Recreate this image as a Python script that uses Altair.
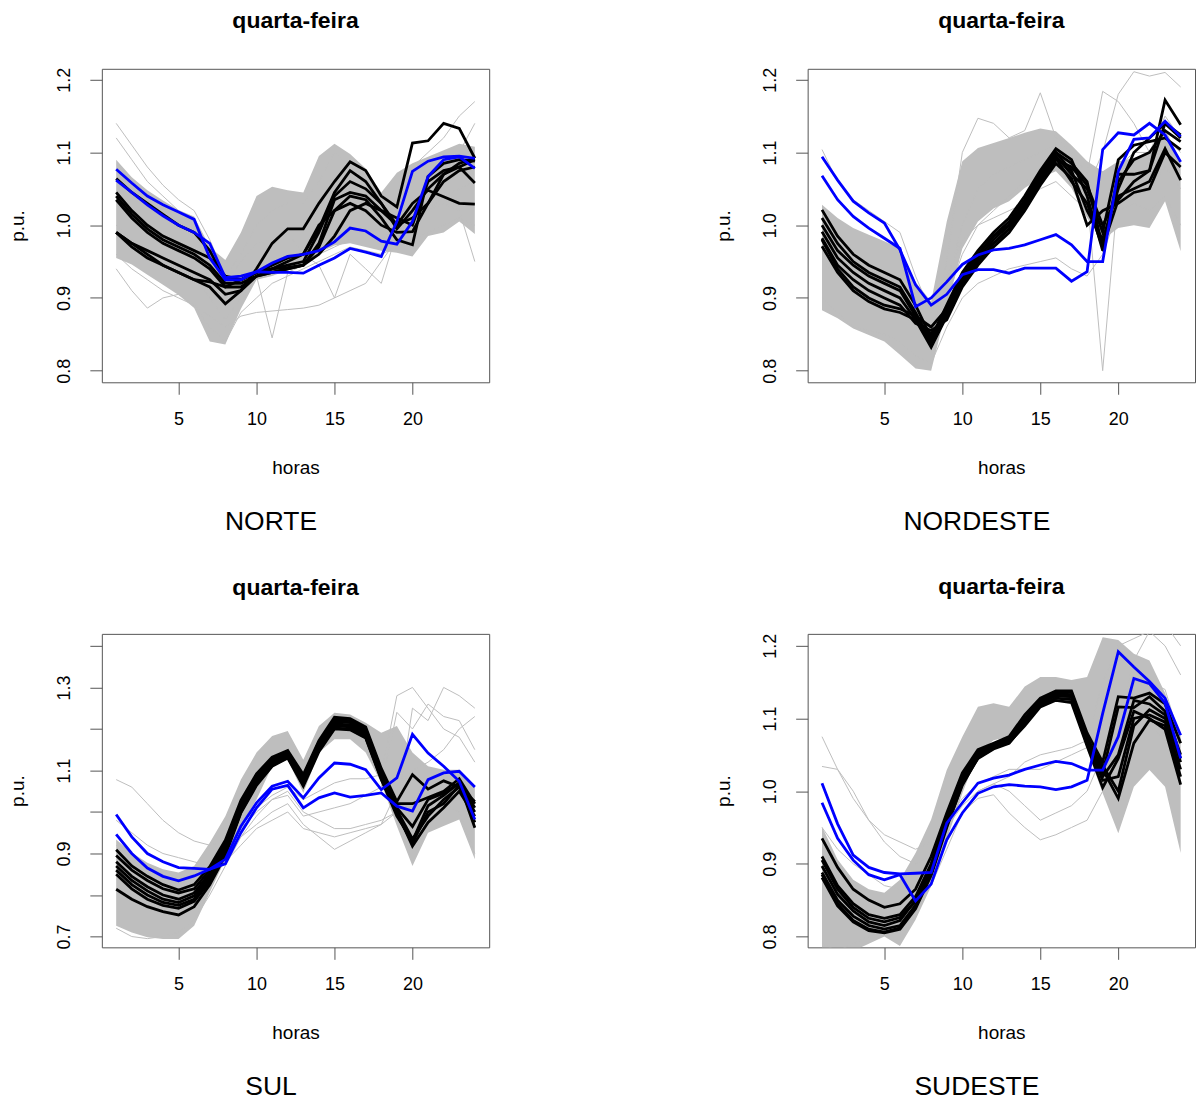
import altair as alt
import pandas as pd

FONT = "Liberation Sans"
HOURS = list(range(1, 25))
TITLE = "quarta-feira"
X_TITLE = "horas"
Y_TITLE = "p.u."
X_TICKS = [5, 10, 15, 20]

# ---------------- NORTE ----------------
norte_band_lo = [0.955, 0.946, 0.932, 0.918, 0.904, 0.886, 0.840, 0.836, 0.885, 0.925, 0.930, 0.938,
                 0.945, 0.962, 0.972, 0.975, 0.970, 0.965, 0.962, 0.957, 0.985, 0.990, 1.005, 0.988]
norte_band_hi = [1.090, 1.066, 1.048, 1.034, 1.021, 1.012, 0.970, 0.952, 0.990, 1.040, 1.053, 1.048,
                 1.045, 1.095, 1.112, 1.098, 1.078, 1.045, 1.072, 1.085, 1.094, 1.103, 1.112, 1.108]
norte_gray = [
    [1.000, 0.980, 0.965, 0.950, 0.940, 0.930, 0.900, 0.870, 0.900, 0.930, 0.845, 0.935, 0.945, 0.960, 0.970, 0.980, 0.980, 0.980, 0.990, 1.000, 1.020, 1.040, 1.050, 1.060],
    [0.960, 0.940, 0.925, 0.910, 0.900, 0.890, 0.875, 0.860, 0.875, 0.880, 0.882, 0.884, 0.886, 0.890, 0.900, 0.910, 0.920, 0.950, 0.980, 1.000, 1.020, 1.030, 1.020, 0.950],
    [1.120, 1.090, 1.060, 1.040, 1.020, 1.000, 0.960, 0.920, 0.950, 0.975, 0.980, 0.990, 0.960, 0.945, 0.900, 0.960, 0.940, 0.920, 0.990, 1.020, 1.050, 1.070, 1.100, 1.140],
    [1.140, 1.110, 1.080, 1.055, 1.035, 1.020, 0.980, 0.930, 0.960, 1.000, 1.020, 1.030, 1.030, 1.060, 1.100, 1.080, 1.060, 1.030, 1.020, 1.080, 1.100, 1.120, 1.150, 1.170],
    [0.940, 0.910, 0.886, 0.900, 0.905, 0.890, 0.860, 0.840, 0.880, 0.900, 0.920, 0.930, 0.940, 0.950, 0.960, 0.970, 0.965, 0.960, 0.970, 0.980, 0.990, 1.000, 1.010, 1.000],
]
norte_black = [
    [0.990, 0.975, 0.965, 0.955, 0.945, 0.935, 0.925, 0.905, 0.910, 0.940, 0.975, 0.995, 0.995, 1.030, 1.060, 1.087, 1.075, 1.040, 1.025, 1.113, 1.116, 1.140, 1.133, 1.092],
    [1.045, 1.020, 1.000, 0.985, 0.975, 0.965, 0.955, 0.930, 0.925, 0.935, 0.940, 0.945, 0.950, 0.990, 1.040, 1.060, 1.050, 1.030, 1.000, 1.030, 1.048, 1.039, 1.030, 1.029],
    [1.040, 1.015, 0.995, 0.980, 0.970, 0.960, 0.945, 0.920, 0.920, 0.930, 0.935, 0.940, 0.945, 0.975, 1.035, 1.045, 1.040, 1.020, 1.010, 1.000, 1.060, 1.075, 1.080, 1.058],
    [1.035, 1.010, 0.990, 0.975, 0.965, 0.955, 0.940, 0.915, 0.915, 0.930, 0.940, 0.950, 0.960, 1.000, 1.020, 1.040, 1.035, 1.010, 0.980, 0.973, 1.067, 1.085, 1.090, 1.088],
    [0.990, 0.975, 0.960, 0.945, 0.935, 0.925, 0.915, 0.892, 0.910, 0.930, 0.935, 0.940, 0.945, 0.970, 1.020, 1.030, 1.020, 1.000, 0.990, 0.991, 1.030, 1.060, 1.075, 1.080],
    [0.990, 0.970, 0.955, 0.945, 0.935, 0.925, 0.922, 0.915, 0.925, 0.935, 0.940, 0.942, 0.945, 0.960, 0.985, 1.020, 1.030, 1.020, 1.000, 1.010, 1.030, 1.070, 1.085, 1.092],
    [1.064, 1.045, 1.030, 1.015, 1.000, 0.990, 0.965, 0.925, 0.925, 0.935, 0.945, 0.955, 0.960, 0.995, 1.045, 1.075, 1.060, 1.030, 0.995, 1.020, 1.050, 1.070, 1.080, 1.090],
]
norte_blue = [
    [1.077, 1.058, 1.040, 1.028, 1.018, 1.008, 0.955, 0.925, 0.925, 0.936, 0.948, 0.957, 0.960, 0.965, 0.977, 0.996, 0.992, 0.978, 0.974, 1.005, 1.067, 1.090, 1.094, 1.078],
    [1.062, 1.045, 1.028, 1.013, 1.000, 0.990, 0.975, 0.928, 0.930, 0.936, 0.935, 0.935, 0.934, 0.945, 0.955, 0.968, 0.963, 0.957, 1.005, 1.074, 1.088, 1.094, 1.095, 1.092],
]

# ---------------- NORDESTE ----------------
nordeste_band_lo = [0.883, 0.872, 0.858, 0.849, 0.840, 0.822, 0.803, 0.800, 0.886, 0.968, 1.005, 1.023,
                    1.033, 1.051, 1.065, 1.074, 1.051, 1.010, 0.980, 0.996, 1.000, 0.996, 1.033, 0.964]
nordeste_band_hi = [1.028, 1.010, 0.996, 0.987, 0.978, 0.968, 0.922, 0.895, 1.005, 1.088, 1.106, 1.113,
                    1.120, 1.127, 1.133, 1.129, 1.110, 1.088, 1.074, 1.088, 1.092, 1.101, 1.133, 1.088]
nordeste_gray = [
    [0.950, 0.930, 0.910, 0.900, 0.890, 0.880, 0.860, 0.840, 0.900, 0.960, 1.000, 1.020, 1.040, 1.060, 1.080, 1.090, 1.070, 1.040, 0.800, 1.050, 1.060, 1.050, 1.080, 1.050],
    [1.000, 0.970, 0.950, 0.930, 0.920, 0.910, 0.880, 0.850, 0.920, 1.000, 1.050, 1.070, 1.080, 1.090, 1.100, 1.110, 1.090, 1.050, 1.100, 1.180, 1.211, 1.205, 1.210, 1.190],
    [0.980, 0.950, 0.930, 0.915, 0.905, 0.890, 0.860, 0.840, 0.950, 1.100, 1.147, 1.140, 1.120, 1.130, 1.182, 1.120, 1.100, 1.070, 1.184, 1.170, 1.140, 1.100, 1.120, 1.100],
    [0.900, 0.880, 0.860, 0.855, 0.850, 0.840, 0.820, 0.810, 0.860, 0.900, 0.920, 0.930, 0.940, 0.945, 0.950, 0.955, 0.940, 0.930, 0.960, 1.020, 1.030, 1.020, 1.040, 1.000],
    [1.104, 1.060, 1.035, 1.020, 1.005, 0.990, 0.930, 0.880, 0.930, 0.980, 1.000, 1.010, 1.020, 1.030, 1.050, 1.060, 1.040, 1.020, 1.000, 1.080, 1.100, 1.100, 1.150, 1.120],
]
nordeste_black = [
    [1.021, 0.985, 0.960, 0.945, 0.935, 0.925, 0.890, 0.845, 0.890, 0.935, 0.965, 0.990, 1.010, 1.040, 1.075, 1.105, 1.090, 1.040, 0.965, 1.070, 1.070, 1.075, 1.172, 1.138],
    [1.010, 0.975, 0.950, 0.935, 0.925, 0.915, 0.880, 0.840, 0.885, 0.930, 0.960, 0.985, 1.005, 1.035, 1.070, 1.100, 1.075, 1.020, 0.980, 1.050, 1.100, 1.120, 1.140, 1.124],
    [1.000, 0.965, 0.945, 0.930, 0.920, 0.910, 0.875, 0.835, 0.880, 0.925, 0.955, 0.980, 1.000, 1.030, 1.065, 1.095, 1.070, 1.050, 0.990, 1.090, 1.110, 1.115, 1.120, 1.104],
    [0.991, 0.955, 0.935, 0.920, 0.910, 0.900, 0.870, 0.832, 0.875, 0.920, 0.950, 0.975, 0.995, 1.025, 1.060, 1.090, 1.080, 1.055, 1.000, 1.040, 1.050, 1.060, 1.105, 1.062],
    [0.982, 0.945, 0.925, 0.910, 0.900, 0.890, 0.865, 0.855, 0.870, 0.915, 0.945, 0.970, 0.990, 1.020, 1.055, 1.085, 1.065, 1.000, 1.020, 1.030, 1.045, 1.050, 1.100, 1.080],
    [0.971, 0.935, 0.910, 0.895, 0.885, 0.880, 0.870, 0.850, 0.880, 0.925, 0.950, 0.975, 0.995, 1.025, 1.060, 1.092, 1.060, 1.030, 0.970, 1.060, 1.090, 1.100, 1.130, 1.115],
    [0.980, 0.940, 0.915, 0.900, 0.890, 0.885, 0.875, 0.860, 0.885, 0.930, 0.960, 0.985, 1.000, 1.030, 1.070, 1.100, 1.085, 1.060, 0.970, 1.035, 1.060, 1.075, 1.140, 1.120],
]
nordeste_blue = [
    [1.094, 1.062, 1.033, 1.017, 1.003, 0.966, 0.918, 0.890, 0.905, 0.932, 0.939, 0.939, 0.934, 0.941, 0.941, 0.941, 0.923, 0.936, 1.104, 1.127, 1.124, 1.140, 1.124, 1.087],
    [1.068, 1.035, 1.012, 0.996, 0.982, 0.968, 0.888, 0.900, 0.922, 0.946, 0.959, 0.966, 0.968, 0.973, 0.980, 0.987, 0.973, 0.950, 0.950, 1.074, 1.118, 1.120, 1.143, 1.122],
]

# ---------------- SUL ----------------
sul_band_lo = [0.726, 0.710, 0.698, 0.694, 0.694, 0.726, 0.806, 0.886, 0.966, 1.030, 1.110, 1.126,
               1.046, 1.143, 1.175, 1.175, 1.143, 1.070, 0.966, 0.870, 0.950, 0.966, 0.982, 0.886]
sul_band_hi = [0.934, 0.902, 0.878, 0.862, 0.854, 0.870, 0.926, 0.990, 1.078, 1.143, 1.183, 1.195,
               1.126, 1.207, 1.239, 1.235, 1.215, 1.191, 1.207, 1.143, 1.110, 1.102, 1.102, 1.062]
sul_gray = [
    [1.078, 1.060, 1.020, 0.980, 0.950, 0.930, 0.920, 0.930, 0.970, 1.010, 1.040, 1.060, 1.030, 1.050, 1.070, 1.080, 1.080, 1.090, 1.280, 1.300, 1.250, 1.200, 1.180, 1.120],
    [0.980, 0.950, 0.920, 0.900, 0.890, 0.880, 0.870, 0.880, 0.920, 0.960, 0.980, 1.000, 0.960, 0.950, 0.940, 0.950, 0.960, 0.970, 1.000, 1.250, 1.220, 1.300, 1.280, 1.250],
    [0.920, 0.880, 0.850, 0.830, 0.820, 0.830, 0.860, 0.900, 0.960, 1.000, 1.030, 1.040, 0.990, 1.000, 1.010, 1.020, 1.040, 1.060, 1.240, 1.200, 1.260, 1.230, 1.220, 1.150],
    [0.720, 0.700, 0.695, 0.700, 0.710, 0.740, 0.800, 0.870, 0.940, 0.990, 1.030, 1.050, 1.000, 0.980, 0.960, 0.960, 0.970, 0.980, 1.000, 1.020, 1.010, 1.020, 1.000, 0.900],
    [0.900, 0.870, 0.850, 0.840, 0.840, 0.850, 0.870, 0.900, 0.940, 0.970, 1.000, 1.020, 0.970, 0.940, 0.910, 0.930, 0.950, 0.970, 1.050, 1.100, 1.120, 1.150, 1.200, 1.230],
]
sul_black = [
    [0.909, 0.870, 0.845, 0.825, 0.812, 0.825, 0.868, 0.932, 1.028, 1.092, 1.132, 1.148, 1.090, 1.172, 1.228, 1.225, 1.205, 1.105, 1.025, 1.090, 1.055, 1.075, 1.060, 1.025],
    [0.895, 0.860, 0.835, 0.815, 0.805, 0.815, 0.860, 0.925, 1.020, 1.085, 1.128, 1.145, 1.085, 1.168, 1.222, 1.220, 1.200, 1.100, 1.020, 1.020, 1.035, 1.050, 1.080, 1.020],
    [0.880, 0.845, 0.820, 0.800, 0.790, 0.805, 0.852, 0.918, 1.015, 1.080, 1.124, 1.142, 1.080, 1.165, 1.218, 1.215, 1.195, 1.095, 1.010, 0.965, 1.030, 1.045, 1.070, 1.010],
    [0.870, 0.835, 0.810, 0.790, 0.782, 0.798, 0.845, 0.912, 1.010, 1.076, 1.120, 1.140, 1.075, 1.160, 1.212, 1.210, 1.190, 1.090, 1.005, 0.935, 0.990, 1.030, 1.060, 1.000],
    [0.860, 0.825, 0.800, 0.782, 0.775, 0.790, 0.838, 0.905, 1.005, 1.072, 1.116, 1.136, 1.070, 1.155, 1.208, 1.205, 1.185, 1.085, 1.000, 0.918, 0.975, 1.010, 1.050, 0.990],
    [0.850, 0.815, 0.790, 0.775, 0.768, 0.785, 0.832, 0.900, 1.000, 1.068, 1.112, 1.132, 1.066, 1.150, 1.202, 1.200, 1.180, 1.080, 0.995, 0.925, 1.000, 1.020, 1.065, 0.975],
    [0.814, 0.790, 0.772, 0.760, 0.752, 0.772, 0.825, 0.895, 0.998, 1.064, 1.110, 1.130, 1.062, 1.145, 1.200, 1.198, 1.178, 1.078, 0.990, 0.930, 1.015, 1.040, 1.070, 0.962],
]
sul_blue = [
    [0.994, 0.940, 0.900, 0.880, 0.866, 0.864, 0.862, 0.886, 0.966, 1.022, 1.062, 1.074, 1.034, 1.082, 1.118, 1.115, 1.102, 1.054, 1.082, 1.187, 1.142, 1.110, 1.074, 0.982],
    [0.946, 0.900, 0.865, 0.845, 0.834, 0.846, 0.862, 0.875, 0.950, 1.010, 1.055, 1.064, 1.010, 1.034, 1.046, 1.036, 1.040, 1.046, 1.014, 1.002, 1.078, 1.094, 1.098, 1.060],
]

# ---------------- SUDESTE ----------------
sudeste_band_lo = [0.775, 0.775, 0.780, 0.790, 0.800, 0.787, 0.823, 0.869, 0.933, 0.997, 1.052, 1.070,
                   1.075, 1.089, 1.116, 1.125, 1.121, 1.057, 0.997, 0.942, 1.006, 1.029, 1.006, 0.915]
sudeste_band_hi = [0.951, 0.906, 0.878, 0.865, 0.860, 0.878, 0.915, 0.961, 1.029, 1.075, 1.116, 1.121,
                   1.116, 1.144, 1.157, 1.157, 1.153, 1.157, 1.212, 1.208, 1.189, 1.180, 1.135, 1.075]
sudeste_gray = [
    [1.075, 1.030, 0.990, 0.960, 0.940, 0.930, 0.920, 0.930, 0.960, 0.990, 1.010, 1.020, 1.030, 1.030, 1.030, 1.040, 1.050, 1.060, 1.100, 1.200, 1.210, 1.220, 1.230, 1.200],
    [1.034, 1.030, 1.000, 0.960, 0.930, 0.910, 0.900, 0.910, 0.950, 0.980, 1.000, 1.010, 1.000, 0.980, 0.960, 0.970, 0.980, 1.000, 1.050, 1.100, 1.180, 1.220, 1.200, 1.160],
    [0.950, 0.920, 0.900, 0.885, 0.870, 0.865, 0.870, 0.890, 0.930, 0.970, 0.990, 0.995, 0.970, 0.950, 0.933, 0.940, 0.950, 0.960, 1.000, 1.060, 1.080, 1.090, 1.070, 1.020],
    [0.790, 0.780, 0.790, 0.800, 0.810, 0.820, 0.840, 0.870, 0.920, 0.970, 1.000, 1.010, 1.020, 1.040, 1.050, 1.055, 1.060, 1.070, 1.150, 1.200, 1.170, 1.150, 1.140, 1.070],
]
sudeste_black = [
    [0.935, 0.895, 0.865, 0.850, 0.840, 0.845, 0.865, 0.910, 0.970, 1.025, 1.057, 1.066, 1.075, 1.105, 1.128, 1.138, 1.138, 1.080, 1.040, 1.130, 1.128, 1.135, 1.120, 1.066],
    [0.910, 0.870, 0.845, 0.830, 0.825, 0.830, 0.855, 0.900, 0.965, 1.020, 1.055, 1.064, 1.072, 1.100, 1.125, 1.136, 1.136, 1.075, 1.025, 1.116, 1.115, 1.130, 1.110, 1.050],
    [0.897, 0.858, 0.835, 0.820, 0.815, 0.822, 0.850, 0.895, 0.960, 1.015, 1.050, 1.062, 1.070, 1.098, 1.122, 1.134, 1.133, 1.070, 1.020, 1.050, 1.125, 1.120, 1.105, 1.040],
    [0.888, 0.850, 0.828, 0.815, 0.810, 0.815, 0.843, 0.890, 0.955, 1.012, 1.048, 1.060, 1.068, 1.095, 1.120, 1.132, 1.130, 1.068, 1.015, 1.020, 1.100, 1.105, 1.095, 1.030],
    [0.881, 0.842, 0.820, 0.808, 0.805, 0.810, 0.838, 0.884, 0.950, 1.010, 1.045, 1.058, 1.066, 1.092, 1.118, 1.128, 1.126, 1.065, 1.030, 0.990, 1.066, 1.098, 1.090, 1.020],
    [0.885, 0.845, 0.822, 0.810, 0.806, 0.812, 0.840, 0.887, 0.952, 1.008, 1.046, 1.059, 1.067, 1.090, 1.116, 1.125, 1.122, 1.062, 1.005, 1.045, 1.110, 1.100, 1.085, 1.009],
    [0.905, 0.865, 0.840, 0.825, 0.820, 0.826, 0.848, 0.893, 0.958, 1.014, 1.052, 1.063, 1.071, 1.097, 1.123, 1.131, 1.130, 1.072, 1.035, 1.000, 1.090, 1.112, 1.100, 1.045],
]
sudeste_blue = [
    [0.984, 0.935, 0.905, 0.885, 0.878, 0.885, 0.849, 0.872, 0.933, 0.970, 0.997, 1.006, 1.009, 1.007, 1.006, 1.002, 1.006, 1.015, 1.107, 1.192, 1.171, 1.151, 1.128, 1.077],
    [1.011, 0.955, 0.912, 0.895, 0.888, 0.886, 0.887, 0.888, 0.956, 0.984, 1.011, 1.018, 1.022, 1.030, 1.036, 1.041, 1.038, 1.029, 1.029, 1.075, 1.155, 1.148, 1.121, 1.045],
]

Y_DOMAINS = {
    "NORTE": [0.784, 1.215],
    "NORDESTE": [0.784, 1.215],
    "SUL": [0.674, 1.429],
    "SUDESTE": [0.785, 1.2165],
}
Y_TICKS = {
    "NORTE": [0.8, 0.9, 1.0, 1.1, 1.2],
    "NORDESTE": [0.8, 0.9, 1.0, 1.1, 1.2],
    "SUL": [0.7, 0.8, 0.9, 1.0, 1.1, 1.2, 1.3, 1.4],
    "SUDESTE": [0.8, 0.9, 1.0, 1.1, 1.2],
}
Y_SHOWN = {
    "NORTE": ["0.8", "0.9", "1.0", "1.1", "1.2"],
    "NORDESTE": ["0.8", "0.9", "1.0", "1.1", "1.2"],
    "SUL": ["0.7", "0.9", "1.1", "1.3"],
    "SUDESTE": ["0.8", "0.9", "1.0", "1.1", "1.2"],
}

PANELS = [
    ("NORTE", norte_band_lo, norte_band_hi, norte_gray, norte_black, norte_blue),
    ("NORDESTE", nordeste_band_lo, nordeste_band_hi, nordeste_gray, nordeste_black, nordeste_blue),
    ("SUL", sul_band_lo, sul_band_hi, sul_gray, sul_black, sul_blue),
    ("SUDESTE", sudeste_band_lo, sudeste_band_hi, sudeste_gray, sudeste_black, sudeste_blue),
]

GRAY = "#BEBEBE"
W, H = 388, 314


def long_df(series_list, prefix):
    rows = []
    for i, s in enumerate(series_list):
        for h, v in zip(HOURS, s):
            rows.append({"h": h, "v": v, "s": f"{prefix}{i}"})
    return pd.DataFrame(rows)


def make_panel(name, lo, hi, grays, blacks, blues):
    xscale = alt.Scale(domain=[0.08, 24.92], nice=False, zero=False)
    yscale = alt.Scale(domain=Y_DOMAINS[name], nice=False, zero=False)
    shown = Y_SHOWN[name]
    expr = "indexof([" + ",".join(f"'{s}'" for s in shown) + "], datum.label) >= 0 ? datum.label : ''"
    xaxis = alt.Axis(values=X_TICKS, tickSize=12, labelPadding=16, titlePadding=30,
                     domain=False, grid=False, labelFontSize=18, titleFontSize=19,
                     labelFont=FONT, titleFont=FONT, titleFontWeight="normal",
                     labelColor="black", titleColor="black", tickColor="#555555",
                     labelFlush=False, labelOverlap=False)
    yaxis = alt.Axis(values=Y_TICKS[name], format=".1f", labelExpr=expr,
                     labelAngle=270, labelAlign="center", labelBaseline="bottom",
                     tickSize=12, labelPadding=16, titlePadding=28,
                     domain=False, grid=False, labelFontSize=18, titleFontSize=19,
                     labelFont=FONT, titleFont=FONT, titleFontWeight="normal",
                     labelColor="black", titleColor="black", tickColor="#555555",
                     labelFlush=False, labelOverlap=False)

    band = pd.DataFrame({"h": HOURS, "lo": lo, "hi": hi})
    area = alt.Chart(band).mark_area(color=GRAY, clip=True, interpolate="linear").encode(
        x=alt.X("h:Q", scale=xscale, axis=xaxis, title=X_TITLE),
        y=alt.Y("lo:Q", scale=yscale, axis=yaxis, title=Y_TITLE),
        y2="hi:Q",
    )

    def lines(df, color, width):
        return alt.Chart(df).mark_line(color=color, strokeWidth=width, clip=True).encode(
            x=alt.X("h:Q", scale=xscale, axis=xaxis, title=X_TITLE),
            y=alt.Y("v:Q", scale=yscale, axis=yaxis, title=Y_TITLE),
            detail="s:N",
        )

    gray_l = lines(long_df(grays, "g"), GRAY, 1)
    black_l = lines(long_df(blacks, "k"), "black", 2.8)
    blue_l = lines(long_df(blues, "b"), "#0000FF", 2.8)

    label = alt.Chart(pd.DataFrame({"t": [name]})).mark_text(
        font=FONT, fontSize=26.5, align="center", baseline="alphabetic", color="black"
    ).encode(text="t:N", x=alt.value(169.5), y=alt.value(462))

    return alt.layer(area, gray_l, black_l, blue_l, label).properties(
        width=W, height=H,
        title=alt.TitleParams(TITLE, font=FONT, fontSize=23, fontWeight="bold",
                              anchor="middle", frame="group", baseline="alphabetic",
                              offset=16, color="black"),
    )


charts = [make_panel(*p) for p in PANELS]

chart = alt.concat(
    *charts, columns=2, bounds="flush", spacing={"row": 252, "column": 319}
).configure_view(
    stroke="#555555", strokeWidth=1
).properties(
    padding={"left": 8, "top": 8, "right": 0, "bottom": 0},
    background="white",
)

chart.save("out.html", embed_options={"renderer": "svg", "actions": False})
